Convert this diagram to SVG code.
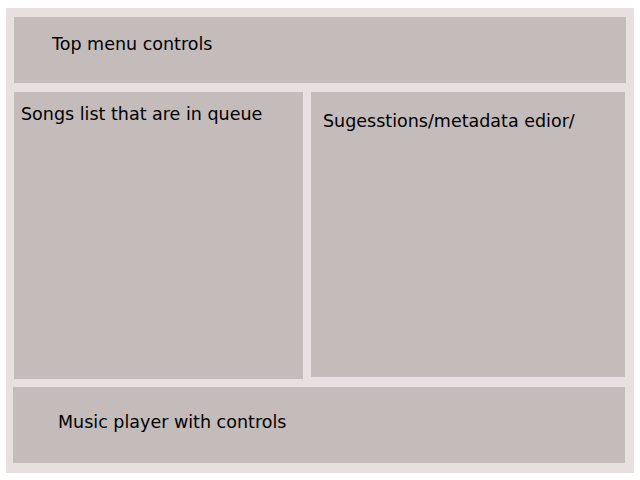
<svg xmlns="http://www.w3.org/2000/svg" width="640" height="480" viewBox="0 0 640 480">
<style>
.box{fill:#c4bbbb;}
.lbl{font-family:"DejaVu Sans",sans-serif;font-size:17.5px;fill:#000;}
</style>
<rect x="0" y="0" width="640" height="480" fill="#ffffff"/>
<rect x="6" y="8" width="628" height="465" fill="#e8dfe0"/>
<g id="top-menu">
<rect class="box" x="14" y="17" width="612" height="66"/>
<text class="lbl" x="52" y="50">Top menu controls</text>
</g>
<g id="songs-list">
<rect class="box" x="14" y="92" width="289" height="287"/>
<text class="lbl" x="21" y="120">Songs list that are in queue</text>
</g>
<g id="suggestions">
<rect class="box" x="311" y="92" width="314" height="285"/>
<text class="lbl" x="323" y="127">Sugesstions/metadata edior/</text>
</g>
<g id="music-player">
<rect class="box" x="13" y="387" width="612" height="76"/>
<text class="lbl" x="58" y="428">Music player with controls</text>
</g>
<g id="connectors"></g>
</svg>
